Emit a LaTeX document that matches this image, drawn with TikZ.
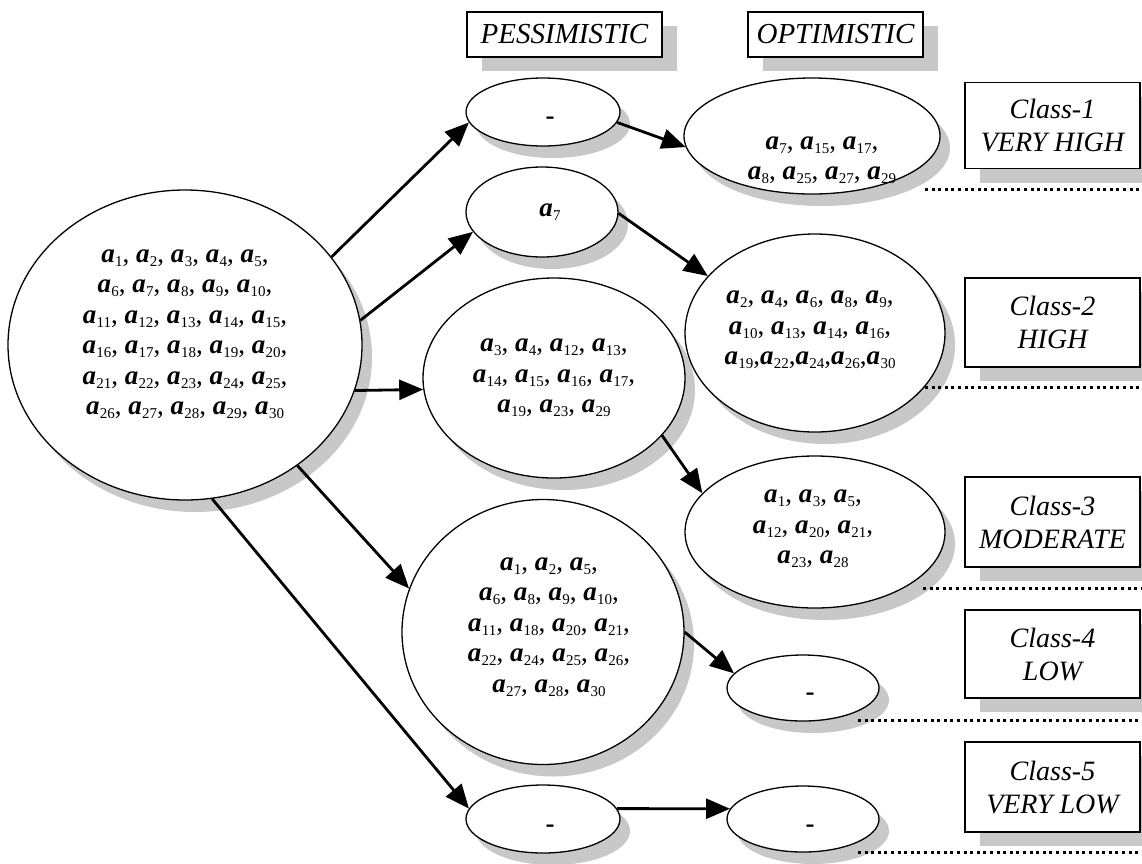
\documentclass[tikz,border=0pt]{standalone}
\usepackage{fontspec}
\setmainfont{Liberation Serif}
\usetikzlibrary{shapes.geometric,shadows,arrows.meta}
\definecolor{shadowgray}{RGB}{200,200,200}
\newcommand\av[1]{\textbf{\textit{a}}\kern0.3pt\raisebox{-4pt}{\fontsize{15}{15}\selectfont #1}}
\tikzset{
  ell/.style={ellipse, draw, line width=1.3pt, fill=white, inner sep=0pt,
    drop shadow={shadow xshift=10pt, shadow yshift=-12pt, fill=shadowgray, opacity=1}},
  boxnode/.style={rectangle, draw, line width=1.8pt, fill=white, inner sep=0pt,
    drop shadow={shadow xshift=15pt, shadow yshift=-14pt, fill=shadowgray, opacity=1},
    font=\fontsize{28}{33}\selectfont\itshape, align=center},
  txt/.style={font=\fontsize{27}{30.5}\selectfont, align=center, inner sep=0pt},
  arr/.style={line width=2.8pt, -{Triangle[length=24pt,width=20pt]}},
  dotline/.style={line width=3pt, dash pattern=on 3pt off 3.6pt}
}
\begin{document}
\begin{tikzpicture}[x=1pt,y=-1pt]
\fill[white] (0,0) rectangle (1142,863);
\useasboundingbox (0,0) rectangle (1142,863);

% header boxes
\node[boxnode, minimum width=195pt, minimum height=45pt, font=\fontsize{29}{33}\selectfont\itshape] (hp) at (564.5,34.5) {PESSIMISTIC};
\node[boxnode, minimum width=175pt, minimum height=45pt, font=\fontsize{29}{33}\selectfont\itshape] (ho) at (835.5,34.5) {OPTIMISTIC};

% ellipses
\node[ell, minimum width=354pt, minimum height=310pt] (E0) at (185,345) {};
\node[ell, minimum width=154pt, minimum height=68pt] (P1) at (543,112) {};
\node[ell, minimum width=152pt, minimum height=90pt] (P2) at (542,212) {};
\node[ell, minimum width=262pt, minimum height=200pt] (P3) at (554,378) {};
\node[ell, minimum width=282pt, minimum height=265pt] (P4) at (543,632) {};
\node[ell, minimum width=154pt, minimum height=68pt] (P5) at (543,819) {};
\node[ell, minimum width=256pt, minimum height=116pt] (O1) at (812,136) {};
\node[ell, minimum width=260pt, minimum height=198pt] (O2) at (815,333) {};
\node[ell, minimum width=260pt, minimum height=152pt] (O3) at (815,532) {};
\node[ell, minimum width=152pt, minimum height=66pt] (O4) at (803,688) {};
\node[ell, minimum width=152pt, minimum height=66pt] (O5) at (803,819) {};

% texts
\node[txt] (E0t) at (185,334) {\av{1}, \av{2}, \av{3}, \av{4}, \av{5},\\
\av{6}, \av{7}, \av{8}, \av{9}, \av{10},\\
\av{11}, \av{12}, \av{13}, \av{14}, \av{15},\\
\av{16}, \av{17}, \av{18}, \av{19}, \av{20},\\
\av{21}, \av{22}, \av{23}, \av{24}, \av{25},\\
\av{26}, \av{27}, \av{28}, \av{29}, \av{30}};
\node[txt] (P1t) at (550,121) {\textbf{-}};
\node[txt] (P2t) at (550,212) {\av{7}};
\node[txt] (P3t) at (554,378) {\av{3}, \av{4}, \av{12}, \av{13},\\
\av{14}, \av{15}, \av{16}, \av{17},\\
\av{19}, \av{23}, \av{29}};
\node[txt] (P4t) at (549,627) {\av{1}, \av{2}, \av{5},\\
\av{6}, \av{8}, \av{9}, \av{10},\\
\av{11}, \av{18}, \av{20}, \av{21},\\
\av{22}, \av{24}, \av{25}, \av{26},\\
\av{27}, \av{28}, \av{30}};
\node[txt] (P5t) at (550,829) {\textbf{-}};
\node[txt] (O1t) at (822,160) {\av{7}, \av{15}, \av{17},\\
\av{8}, \av{25}, \av{27}, \av{29}};
\node[txt] (O2t) at (810,330) {\av{2}, \av{4}, \av{6}, \av{8}, \av{9},\\
\av{10}, \av{13}, \av{14}, \av{16},\\
\av{19},\av{22},\av{24},\av{26},\av{30}};
\node[txt] (O3t) at (813,529) {\av{1}, \av{3}, \av{5},\\
\av{12}, \av{20}, \av{21},\\
\av{23}, \av{28}};
\node[txt] (O4t) at (810,697) {\textbf{-}};
\node[txt] (O5t) at (810,829) {\textbf{-}};

% class boxes
\node[boxnode, minimum width=175pt, minimum height=86pt] (C1) at (1052.5,125.5) {Class-1\\VERY HIGH};
\node[boxnode, minimum width=175pt, minimum height=89pt] (C2) at (1052.5,322.5) {Class-2\\HIGH};
\node[boxnode, minimum width=175pt, minimum height=90pt] (C3) at (1052.5,522) {Class-3\\MODERATE};
\node[boxnode, minimum width=175pt, minimum height=88pt] (C4) at (1052.5,654) {Class-4\\LOW};
\node[boxnode, minimum width=175pt, minimum height=90pt] (C5) at (1052.5,787) {Class-5\\VERY LOW};

% dotted separators
\coordinate (d1a) at (925,189); \coordinate (d1b) at (1142,189);
\coordinate (d2a) at (925,387); \coordinate (d2b) at (1142,387);
\coordinate (d3a) at (923,588); \coordinate (d3b) at (1142,588);
\coordinate (d4a) at (858,720); \coordinate (d4b) at (1142,720);
\coordinate (d5a) at (858,852); \coordinate (d5b) at (1142,852);
\draw[dotline] (d1a) -- (d1b);
\draw[dotline] (d2a) -- (d2b);
\draw[dotline] (d3a) -- (d3b);
\draw[dotline] (d4a) -- (d4b);
\draw[dotline] (d5a) -- (d5b);

% arrows
\draw[arr] (E0.31) -- (P1.188);
\draw[arr] (E0.8) -- (P2.196);
\draw[arr] (E0.-15) -- (P3.185);
\draw[arr] (E0.-47) -- (P4.162);
\draw[arr] (E0.-80) -- (P5.172);
\draw[arr] (P1.-8) -- (O1.185);
\draw[arr] (P2.-1) -- (O2.152);
\draw[arr] (P3.-28) -- (O3.161);
\draw[arr] (P4.0) -- (O4.168);
\draw[arr] (P5.8) -- (O5.172);
\end{tikzpicture}
\end{document}
